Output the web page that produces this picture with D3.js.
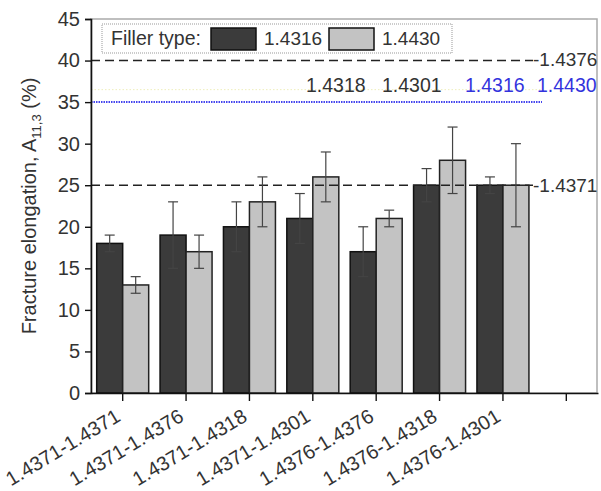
<!DOCTYPE html>
<html>
<head>
<meta charset="utf-8">
<script src="https://cdn.jsdelivr.net/npm/d3@7"></script>
<style>
  body { margin: 0; background: #fff; }
  svg text { font-family: "Liberation Sans", Arial, sans-serif; fill: #333; }
</style>
</head>
<body>
<div id="chart"></div>
<script>
// categories (last slot is empty on the original axis)
const categories = ['1.4371-1.4371', '1.4371-1.4376', '1.4371-1.4318', '1.4371-1.4301',
  '1.4376-1.4376', '1.4376-1.4318', '1.4376-1.4301', ''];
const series = ['1.4316', '1.4430'];
const dark = [18, 19, 20, 21, 17, 25, 25];
const darkErr = [1, 4, 3, 3, 3, 2, 1];
const light = [13, 17, 23, 26, 21, 28, 25];
const lightErr = [1, 2, 3, 3, 1, 4, 5];
const yTicks = [0, 5, 10, 15, 20, 25, 30, 35, 40, 45];

const width = 601, height = 491;
const margin = { top: 19, right: 3, bottom: 98, left: 91 };

const svg = d3.select('#chart').append('svg')
  .attr('width', width)
  .attr('height', height);

const x = d3.scaleBand()
  .domain(categories)
  .range([margin.left, width - margin.right]);

const y = d3.scaleLinear()
  .domain([0, 45])
  .range([height - margin.bottom, margin.top]);

const barW = 26;

// frame
svg.append('rect')
  .attr('x', margin.left).attr('y', margin.top)
  .attr('width', width - margin.right - margin.left - 1)
  .attr('height', y(0) - margin.top)
  .attr('fill', 'none').attr('stroke', '#aaa').attr('stroke-width', 1.5);

// reference lines
svg.append('line')
  .attr('x1', margin.left).attr('x2', 533)
  .attr('y1', y(40)).attr('y2', y(40))
  .attr('stroke', '#222').attr('stroke-width', 1.5).attr('stroke-dasharray', '9,5');
svg.append('line')
  .attr('x1', margin.left).attr('x2', 542)
  .attr('y1', y(35)).attr('y2', y(35))
  .attr('stroke', '#4444ee').attr('stroke-width', 2).attr('stroke-dasharray', '1.5,1');
svg.append('line')
  .attr('x1', margin.left).attr('x2', 542)
  .attr('y1', y(36.5)).attr('y2', y(36.5))
  .attr('stroke', '#eeeebb').attr('stroke-width', 1).attr('stroke-dasharray', '1.5,2');

svg.append('text').attr('x', 533).attr('y', y(40) + 5)
  .attr('font-size', 19).text('-1.4376');
svg.append('text').attr('x', 533).attr('y', y(25) + 7)
  .attr('font-size', 19).text('-1.4371');

const topLabels = [
  { t: '1.4318', x: 306, c: '#333' },
  { t: '1.4301', x: 382, c: '#333' },
  { t: '1.4316', x: 465, c: '#3333dd' },
  { t: '1.4430', x: 537, c: '#3333dd' }
];
svg.selectAll('.toplab').data(topLabels).enter().append('text')
  .attr('x', d => d.x).attr('y', y(35) - 10)
  .attr('font-size', 19.5)
  .style('fill', d => d.c)
  .text(d => d.t);

// bars
const cats = categories.slice(0, 7);
const g = svg.append('g');
g.selectAll('.bd').data(cats).enter().append('rect')
  .attr('x', d => x(d) + x.bandwidth() / 2 - barW)
  .attr('y', (d, i) => y(dark[i]))
  .attr('width', barW)
  .attr('height', (d, i) => y(0) - y(dark[i]))
  .attr('fill', '#3b3b3b').attr('stroke', '#111').attr('stroke-width', 1.5);
g.selectAll('.bl').data(cats).enter().append('rect')
  .attr('x', d => x(d) + x.bandwidth() / 2)
  .attr('y', (d, i) => y(light[i]))
  .attr('width', barW)
  .attr('height', (d, i) => y(0) - y(light[i]))
  .attr('fill', '#c3c3c3').attr('stroke', '#222').attr('stroke-width', 1.5);

// 25 dashed line over bars
svg.append('line')
  .attr('x1', margin.left).attr('x2', 533)
  .attr('y1', y(25)).attr('y2', y(25))
  .attr('stroke', '#222').attr('stroke-width', 1.5).attr('stroke-dasharray', '9,5');

// error bars
function errBars(vals, errs, off) {
  const eg = svg.append('g').attr('stroke', '#444').attr('stroke-width', 1.2);
  cats.forEach((c, i) => {
    const cx = x(c) + x.bandwidth() / 2 + off;
    const t = y(vals[i] + errs[i]), b = y(vals[i] - errs[i]);
    eg.append('line').attr('x1', cx).attr('x2', cx).attr('y1', t).attr('y2', b);
    eg.append('line').attr('x1', cx - 5).attr('x2', cx + 5).attr('y1', t).attr('y2', t);
    eg.append('line').attr('x1', cx - 5).attr('x2', cx + 5).attr('y1', b).attr('y2', b);
  });
}
errBars(dark, darkErr, -barW / 2);
errBars(light, lightErr, barW / 2);

// axes
const yAxis = svg.append('g')
  .attr('transform', `translate(${margin.left},0)`)
  .call(d3.axisLeft(y).tickValues(yTicks).tickSize(6).tickPadding(5));
yAxis.selectAll('text').attr('font-size', 20);

const xAxis = svg.append('g')
  .attr('transform', `translate(0,${y(0)})`)
  .call(d3.axisBottom(x).tickSize(8).tickSizeOuter(0));
xAxis.selectAll('text')
  .attr('font-size', 20)
  .attr('text-anchor', 'end')
  .attr('x', 0).attr('y', 0).attr('dy', 0)
  .attr('transform', 'translate(-1,27) rotate(-31)');
svg.selectAll('.domain').attr('stroke', '#111').attr('stroke-width', 1.6);
svg.selectAll('.tick line').attr('stroke', '#111').attr('stroke-width', 1.4);

// y label
svg.append('text')
  .attr('transform', `translate(36,${(margin.top + y(0)) / 2}) rotate(-90)`)
  .attr('text-anchor', 'middle')
  .attr('font-size', 20)
  .html('Fracture elongation, A<tspan dy="5" font-size="13">11,3</tspan><tspan dy="-5"> (%)</tspan>');

// legend
const lg = svg.append('g');
lg.append('rect').attr('x', 102).attr('y', 24).attr('width', 350).attr('height', 29)
  .attr('fill', '#fff').attr('stroke', '#999').attr('stroke-dasharray', '1,1');
lg.append('text').attr('x', 111).attr('y', 45).attr('font-size', 19.5).text('Filler type:');
const legendItems = [
  { name: series[0], fill: '#3b3b3b', x: 211 },
  { name: series[1], fill: '#c3c3c3', x: 329 }
];
legendItems.forEach(d => {
  lg.append('rect').attr('x', d.x).attr('y', 28).attr('width', 45).attr('height', 22)
    .attr('fill', d.fill).attr('stroke', '#111').attr('stroke-width', 1.5);
  lg.append('text').attr('x', d.x + 53).attr('y', 45).attr('font-size', 19).text(d.name);
});
</script>
</body>
</html>
